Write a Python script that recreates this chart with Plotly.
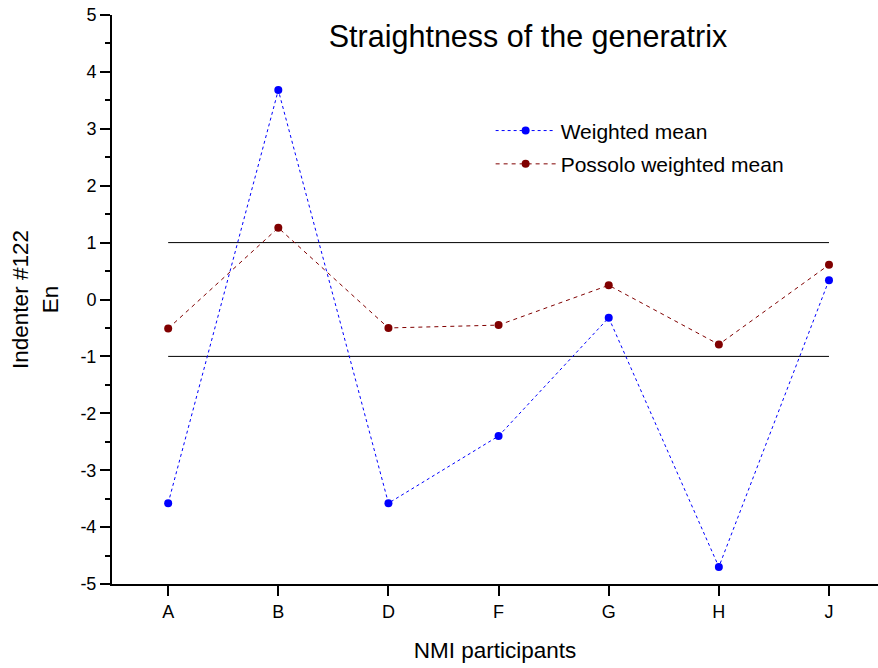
import plotly.graph_objects as go

categories = ["A", "B", "D", "F", "G", "H", "J"]
weighted_mean = [-3.58, 3.68, -3.58, -2.40, -0.32, -4.70, 0.34]
possolo_mean = [-0.51, 1.26, -0.50, -0.45, 0.25, -0.79, 0.61]
limit_upper = [1, 1]
limit_lower = [-1, -1]
limit_x = [categories[0], categories[-1]]
y_tickvals = [-5, -4, -3, -2, -1, 0, 1, 2, 3, 4, 5]
y_ticktext = ["-5", "-4", "-3", "-2", "-1", "0", "1", "2", "3", "4", "5"]

font = "Liberation Sans, Arial, sans-serif"
W, H = 878, 668

fig = go.Figure()
fig.add_trace(go.Scatter(x=limit_x, y=limit_upper, mode="lines",
                         line=dict(color="black", width=1), showlegend=False, hoverinfo="skip"))
fig.add_trace(go.Scatter(x=limit_x, y=limit_lower, mode="lines",
                         line=dict(color="black", width=1), showlegend=False, hoverinfo="skip"))
fig.add_trace(go.Scatter(x=categories, y=weighted_mean, mode="lines+markers", name="Weighted mean",
                         legendgroup="wm",
                         line=dict(color="#0000ff", width=1, dash="3px,3px"),
                         marker=dict(color="#0000ff", size=8)))
fig.add_trace(go.Scatter(x=categories, y=possolo_mean, mode="lines+markers", name="Possolo weighted mean",
                         legendgroup="pwm",
                         line=dict(color="#800000", width=1, dash="4px,4px"),
                         marker=dict(color="#800000", size=8)))

fig.update_layout(
    width=W, height=H,
    margin=dict(l=112, r=0, t=15, b=84),
    paper_bgcolor="white", plot_bgcolor="white",
    font=dict(family=font, size=18, color="black"),
    title=dict(text="Straightness of the generatrix", x=528/W, xanchor="center",
               y=1-36/H, yanchor="middle", font=dict(size=30.5, family=font)),
    legend=dict(x=434/W, y=1-112/H, xanchor="left", yanchor="top",
                bgcolor="rgba(0,0,0,0)", font=dict(size=21, family=font),
                itemwidth=60, tracegroupgap=3),
    showlegend=True,
    xaxis=dict(type="category", categoryorder="array", categoryarray=categories,
               range=[-0.51, 6.445], showgrid=False, zeroline=False, automargin=False,
               showline=True, linecolor="black", linewidth=2,
               ticks="outside", ticklen=10, tickwidth=2, tickcolor="black",
               minor=dict(ticks="outside", ticklen=5, tickwidth=2, tickcolor="black", dtick=0.5, tick0=0.5),
               title=dict(text="NMI participants", font=dict(size=22.5), standoff=22),
               tickfont=dict(size=18), ticklabeloverflow="allow"),
    yaxis=dict(range=[-5, 5], tickmode="array", tickvals=y_tickvals, ticktext=y_ticktext,
               showgrid=False, zeroline=False, automargin=False,
               showline=True, linecolor="black", linewidth=2,
               ticks="outside", ticklen=10, tickwidth=2, tickcolor="black",
               minor=dict(ticks="outside", ticklen=5, tickwidth=2, tickcolor="black", dtick=0.5, tick0=0),
               title=dict(text="Indenter #122<br>En", font=dict(size=22.5), standoff=16),
               tickfont=dict(size=18), ticklabeloverflow="allow"),
    shapes=[dict(type="line", xref="paper", yref="paper", x0=-12/766, x1=0, y0=0, y1=0,
                 line=dict(color="black", width=2))],
)

fig.write_html("out.html", config={"displayModeBar": False},
               post_script="document.body.style.margin='0';document.body.style.overflow='hidden';")
